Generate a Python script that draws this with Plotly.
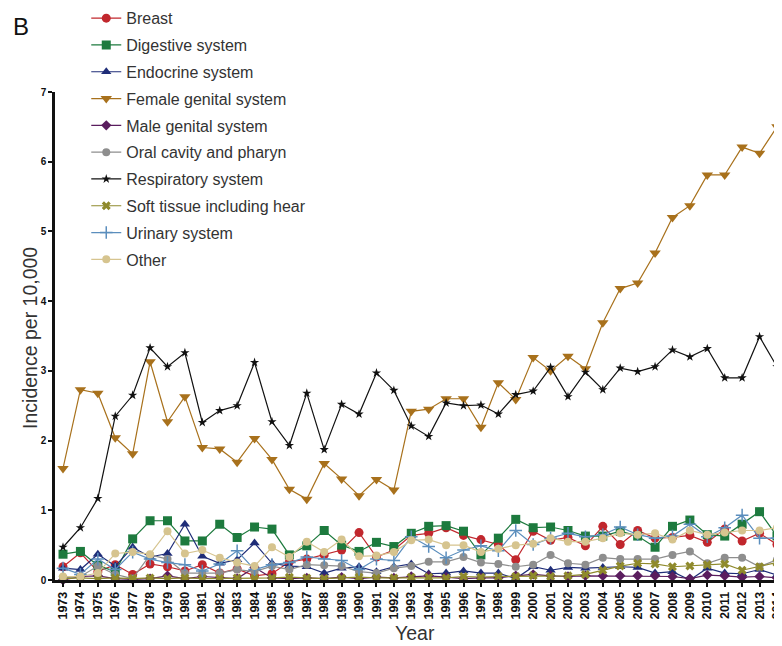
import plotly.graph_objects as go

years = list(range(1973, 2015))

breast = [0.19, 0.39, 0.12, 0.22, 0.08, 0.23, 0.19, 0.13, 0.22, 0.10, 0.16, 0.06, 0.09, 0.26, 0.30, 0.36, 0.43, 0.68, 0.33, 0.43, 0.64,
          0.67, 0.75, 0.64, 0.58, 0.51, 0.29, 0.70, 0.57, 0.61, 0.49, 0.77, 0.51, 0.71, 0.60, 0.61, 0.64, 0.54, 0.73, 0.56, 0.67, 0.51]
digestive = [0.37, 0.41, 0.21, 0.12, 0.59, 0.85, 0.85, 0.56, 0.56, 0.80, 0.61, 0.76, 0.73, 0.36, 0.49, 0.71, 0.50, 0.41, 0.54, 0.48, 0.67,
             0.77, 0.78, 0.70, 0.36, 0.60, 0.87, 0.75, 0.76, 0.71, 0.63, 0.63, 0.70, 0.63, 0.47, 0.77, 0.86, 0.65, 0.63, 0.80, 0.98, 0.63]
endocrine = [0.17, 0.15, 0.37, 0.20, 0.47, 0.33, 0.38, 0.80, 0.34, 0.24, 0.29, 0.53, 0.24, 0.20, 0.19, 0.10, 0.17, 0.19, 0.12, 0.19, 0.23,
             0.09, 0.10, 0.13, 0.10, 0.10, 0.02, 0.19, 0.14, 0.18, 0.17, 0.18, 0.19, 0.18, 0.10, 0.12, 0.00, 0.17, 0.10, 0.09, 0.15, 0.07]
female = [1.60, 2.73, 2.68, 2.04, 1.81, 3.13, 2.27, 2.63, 1.90, 1.88, 1.69, 2.03, 1.73, 1.30, 1.16, 1.67, 1.45, 1.21, 1.44, 1.29, 2.42,
          2.45, 2.60, 2.60, 2.19, 2.83, 2.59, 3.19, 3.00, 3.21, 3.03, 3.69, 4.18, 4.26, 4.69, 5.20, 5.37, 5.81, 5.81, 6.21, 6.12, 6.50]
male = [0.00, 0.05, 0.06, 0.02, 0.01, 0.02, 0.06, 0.02, 0.05, 0.03, 0.02, 0.18, 0.03, 0.02, 0.03, 0.02, 0.04, 0.02, 0.04, 0.03, 0.05,
        0.06, 0.04, 0.02, 0.03, 0.03, 0.06, 0.08, 0.06, 0.05, 0.06, 0.06, 0.06, 0.06, 0.06, 0.05, 0.02, 0.07, 0.06, 0.04, 0.05, 0.03]
oral = [0.03, 0.05, 0.20, 0.08, 0.02, 0.36, 0.30, 0.10, 0.10, 0.10, 0.15, 0.12, 0.20, 0.15, 0.22, 0.21, 0.20, 0.12, 0.10, 0.17, 0.20,
        0.26, 0.26, 0.33, 0.25, 0.23, 0.19, 0.22, 0.36, 0.24, 0.22, 0.32, 0.30, 0.30, 0.30, 0.36, 0.41, 0.24, 0.32, 0.32, 0.19, 0.29]
respiratory = [0.47, 0.75, 1.17, 2.35, 2.65, 3.33, 3.06, 3.26, 2.26, 2.43, 2.50, 3.12, 2.27, 1.93, 2.68, 1.87, 2.52, 2.38, 2.97, 2.72, 2.21,
               2.06, 2.54, 2.50, 2.51, 2.38, 2.66, 2.71, 3.05, 2.63, 2.98, 2.73, 3.04, 2.99, 3.06, 3.30, 3.20, 3.32, 2.90, 2.90, 3.49, 3.06]
soft = [0.02, 0.03, 0.02, 0.03, 0.02, 0.03, 0.02, 0.03, 0.02, 0.02, 0.03, 0.02, 0.03, 0.04, 0.03, 0.02, 0.03, 0.04, 0.03, 0.03, 0.04,
        0.04, 0.03, 0.05, 0.04, 0.05, 0.05, 0.06, 0.05, 0.06, 0.08, 0.14, 0.20, 0.24, 0.23, 0.19, 0.20, 0.22, 0.23, 0.14, 0.19, 0.25]
urinary = [0.17, 0.08, 0.30, 0.15, 0.40, 0.30, 0.25, 0.22, 0.13, 0.23, 0.42, 0.15, 0.22, 0.25, 0.33, 0.30, 0.28, 0.15, 0.30, 0.28, 0.62,
           0.48, 0.32, 0.43, 0.49, 0.42, 0.71, 0.51, 0.60, 0.67, 0.62, 0.65, 0.76, 0.65, 0.60, 0.63, 0.80, 0.62, 0.75, 0.93, 0.60, 0.60]
other = [0.05, 0.05, 0.10, 0.38, 0.40, 0.37, 0.70, 0.38, 0.43, 0.32, 0.25, 0.20, 0.47, 0.33, 0.55, 0.40, 0.58, 0.34, 0.35, 0.40, 0.57,
         0.58, 0.50, 0.50, 0.40, 0.45, 0.50, 0.52, 0.60, 0.55, 0.55, 0.60, 0.67, 0.65, 0.67, 0.58, 0.71, 0.65, 0.68, 0.71, 0.71, 0.75]

series = [
    ("Breast", breast, "#c1272d", "circle", 9),
    ("Digestive system", digestive, "#1d7a3e", "square", 9),
    ("Endocrine system", endocrine, "#1f2d78", "triangle-up", 9),
    ("Female genital system", female, "#a8711c", "triangle-down", 10),
    ("Male genital system", male, "#5a1d5e", "diamond", 8),
    ("Oral cavity and pharyn", oral, "#8e8e8e", "circle", 8),
    ("Respiratory system", respiratory, "#111111", "star", 7),
    ("Soft tissue including hear", soft, "#8f8a2c", "x", 8),
    ("Urinary system", urinary, "#5b8ebd", "cross-thin-open", 9),
    ("Other", other, "#d6c48f", "circle", 8),
]

fig = go.Figure()
for i, (name, vals, color, sym, size) in enumerate(series):
    mk = dict(symbol=sym, size=size, color=color)
    if sym == "cross-thin-open":
        mk["line"] = dict(color=color, width=1.5)
    fig.add_trace(go.Scatter(
        x=years, y=vals, name=name, mode="lines+markers",
        line=dict(color=color, width=1.2),
        marker=mk, cliponaxis=False, legendgroup=f"g{i}",
    ))

# page body has an 8px margin, so the figure is sized/positioned to compensate
fig.update_layout(
    width=774, height=638,
    margin=dict(l=47, r=0, t=84, b=66, autoexpand=False),
    paper_bgcolor="white", plot_bgcolor="white",
    font=dict(family="Liberation Sans, Arial, sans-serif", color="#222"),
    showlegend=True,
    legend=dict(x=0.043, y=1.186, xanchor="left", yanchor="top",
                font=dict(size=16, color="#333"), tracegroupgap=3,
                bgcolor="rgba(0,0,0,0)", itemwidth=30),
    xaxis=dict(range=[1972.54, 2014.29], tickmode="array", tickvals=years,
               ticktext=[f"<b>{y}</b>" for y in years], tickangle=-90,
               tickfont=dict(size=12.5, color="#111"), ticks="outside", ticklen=4,
               tickwidth=1.5, tickcolor="#111", automargin=False,
               ticklabeloverflow="allow",
               showline=True, linecolor="#111", linewidth=2.5,
               showgrid=False, zeroline=False),
    yaxis=dict(range=[0, 7], tickvals=list(range(8)),
               ticktext=[f"<b>{v}</b>" for v in range(8)],
               tickfont=dict(size=10, color="#111"), ticks="outside", ticklen=4,
               tickwidth=1.5, tickcolor="#111", automargin=False,
               showline=True, linecolor="#111", linewidth=2.5,
               showgrid=False, zeroline=False),
    annotations=[
        dict(text="B", x=-0.060, y=1.165, xref="paper", yref="paper", showarrow=False,
             font=dict(size=24, color="#111"), xanchor="left", yanchor="top"),
        dict(text="Incidence per 10,000", x=-0.0344, y=0.496, xref="paper", yref="paper",
             showarrow=False, textangle=-90, font=dict(size=19.5, color="#333"),
             xanchor="center", yanchor="middle"),
        dict(text="Year", x=0.495, y=-0.109, xref="paper", yref="paper",
             showarrow=False, font=dict(size=19.5, color="#333"),
             xanchor="center", yanchor="middle"),
    ],
)

fig.write_html("out.html")
